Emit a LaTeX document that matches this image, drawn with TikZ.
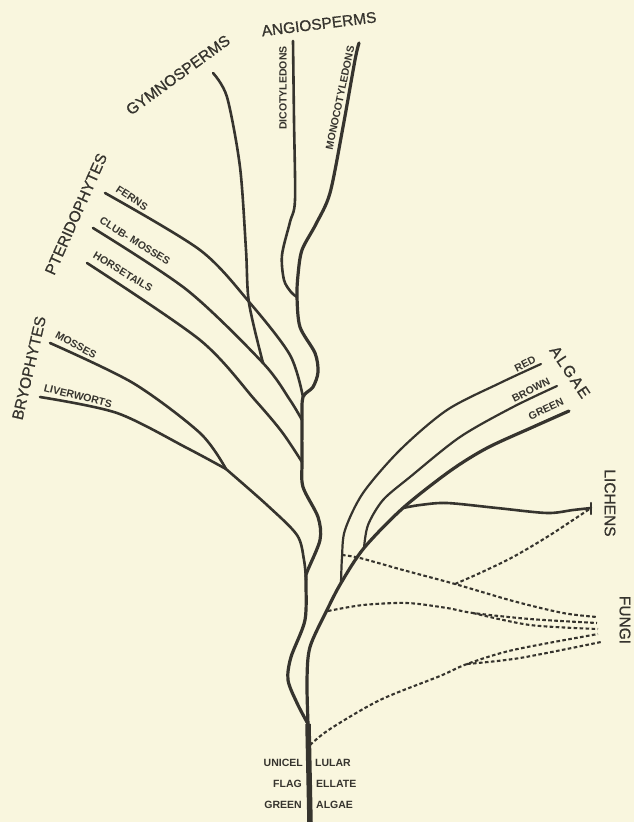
\documentclass[tikz,border=0pt]{standalone}
\usepackage{fontspec}
\setmainfont{Liberation Sans}
\usepackage{tikz}
\usetikzlibrary{calc}
\definecolor{papier}{HTML}{F9F6DE}
\definecolor{encre}{HTML}{36342E}
\tikzset{
  branche/.style={draw=encre, line width=2.6pt, line cap=round, line join=round},
  tige/.style={branche, line width=3.2pt},
  mince/.style={branche, line width=2.2pt},
  tronc/.style={draw=encre, line width=5.5pt},
  pointille/.style={draw=encre, line width=2.1pt, dash pattern=on 3.6pt off 2.4pt},
  groupe/.style={font=\fontsize{15.5}{17}\selectfont\addfontfeature{FakeBold=0.8},
    text=encre, inner sep=0pt},
  rameau/.style={font=\bfseries\fontsize{10.5}{12}\selectfont, text=encre, inner sep=0pt},
  socle/.style={font=\bfseries\fontsize{10.5}{12}\selectfont, text=encre, inner sep=0pt}
}

\begin{document}
\begin{tikzpicture}[x=1pt, y=-1pt]
  \fill[papier] (0,0) rectangle (634,822);
  \useasboundingbox (0,0) rectangle (634,822);

  % junctions and tips
  \coordinate (root) at (310,822);
  \coordinate (fork) at (308,724);
  \coordinate (jBryo) at (306,580);
  \coordinate (jHorse) at (302,462);
  \coordinate (jClub) at (302,420);
  \coordinate (jAngio) at (303,397);
  \coordinate (jDicot) at (297,297);
  \coordinate (jGymno) at (263,363);
  \coordinate (jMoss) at (226,469);
  \coordinate (jRed) at (341,583);
  \coordinate (jBrown) at (364,548);
  \coordinate (jLichen) at (403,508);
  \coordinate (jD1) at (342,555);
  \coordinate (jD3) at (328,611);
  \coordinate (jD4) at (310,745);
  \coordinate (cross) at (455,584);
  \coordinate (split3) at (473,613);
  \coordinate (split4) at (467,664);
  \coordinate (monoEnd) at (359,43);
  \coordinate (dicotEnd) at (293,41);
  \coordinate (gymnoEnd) at (213,73);
  \coordinate (fernEnd) at (105,193);
  \coordinate (clubEnd) at (93,228);
  \coordinate (horseEnd) at (87,263);
  \coordinate (mossEnd) at (50,343);
  \coordinate (liverEnd) at (40,397);
  \coordinate (redEnd) at (541,364);
  \coordinate (brownEnd) at (557,386);
  \coordinate (greenEnd) at (569,411);
  \coordinate (lichenEnd) at (591,508);
  \coordinate (f1) at (597,617);
  \coordinate (f2) at (597,623);
  \coordinate (f3) at (598,629);
  \coordinate (f4) at (598,634);
  \coordinate (f5) at (601,642);

  \draw[tronc] (root) -- (fork);

  % main stem up to the monocotyledons
  \draw[tige] plot[smooth] coordinates {(fork) (297,703) (288,680) (291,657)
    (305,620) (jBryo) (307,572) (320,540) (318,517) (303,487) (jHorse) (jClub)
    (jAngio) (313,387) (318,372) (315,353) (300,327) (jDicot) (298,275) (302,250)
    (316,224) (330,193) (343,127) (355,60) (monoEnd)};
  \draw[branche] plot[smooth] coordinates {(dicotEnd) (294,120) (295,200)
    (290,222) (282,255) (284,280) (291,292) (jDicot)};
  \draw[branche] plot[smooth] coordinates {(gymnoEnd) (227,97) (240,167)
    (246,250) (249,303) (jGymno)};

  % pteridophytes
  \draw[branche] plot[smooth] coordinates {(fernEnd) (200,250) (250,303)
    (290,355) (jAngio)};
  \draw[branche] plot[smooth] coordinates {(clubEnd) (187,290) (jGymno)
    (290,400) (jClub)};
  \draw[branche] plot[smooth] coordinates {(horseEnd) (200,340) (255,400)
    (282,432) (jHorse)};

  % bryophytes
  \draw[branche] plot[smooth] coordinates {(mossEnd) (133,383) (200,433) (jMoss)};
  \draw[branche] plot[smooth] coordinates {(liverEnd) (117,413) (187,448) (jMoss)};
  \draw[branche] plot[smooth] coordinates {(jMoss) (267,505) (297,535)
    (304,560) (jBryo)};

  % algae
  \draw[tige] plot[smooth] coordinates {(fork) (307,680) (310,647) (327,610)
    (jRed) (jBrown) (jLichen) (450,471) (487,448) (533,427) (greenEnd)};
  \draw[mince] plot[smooth] coordinates {(redEnd) (500,383) (447,410) (400,450)
    (363,493) (345,530) (342,557) (jRed)};
  \draw[mince] plot[smooth] coordinates {(brownEnd) (513,407) (460,437)
    (410,477) (383,500) (368,525) (jBrown)};

  % lichens
  \draw[branche] plot[smooth] coordinates {(jLichen) (420,505) (447,503)
    (497,508) (547,513) (573,510) (lichenEnd)};
  \draw[mince] ($(lichenEnd)+(0,-5)$) -- ($(lichenEnd)+(0,6)$);

  % fungi
  \draw[pointille] plot[smooth] coordinates {(jD1) (360,558) (403,570) (cross)
    (513,601) (563,613) (f1)};
  \draw[pointille] plot[smooth] coordinates {(cross) (480,573) (513,557)
    (547,537) (573,520) (lichenEnd)};
  \draw[pointille] plot[smooth] coordinates {(jD3) (363,605) (407,603)
    (447,608) (split3) (530,619) (f2)};
  \draw[pointille] plot[smooth] coordinates {(split3) (530,625) (f3)};
  \draw[pointille] plot[smooth] coordinates {(jD4) (330,729) (380,700)
    (440,676) (split4) (513,650) (f4)};
  \draw[pointille] plot[smooth] coordinates {(split4) (520,658) (f5)};

  % labels
  \node[groupe, rotate=7] (angio) at (319,24) {ANGIOSPERMS};
  \node[groupe, rotate=36] (gymno) at (178,75) {GYMNOSPERMS};
  \node[rameau, rotate=90] (dicot) at (283,88) {DICOTYLEDONS};
  \node[rameau, rotate=78] (mono) at (340,98) {MONOCOTYLEDONS};
  \node[groupe, rotate=66] (pterido) at (76,214) {PTERIDOPHYTES};
  \node[groupe, rotate=77] (bryo) at (29,368) {BRYOPHYTES};
  \node[rameau, rotate=-34] (ferns) at (132,198) {FERNS};
  \node[rameau, rotate=-32] (club) at (135,241) {CLUB- MOSSES};
  \node[rameau, rotate=-31] (horse) at (123,272) {HORSETAILS};
  \node[rameau, rotate=-29] (mosses) at (76,345) {MOSSES};
  \node[rameau, rotate=-14] (liver) at (78,396) {LIVERWORTS};
  \node[rameau, rotate=27] (red) at (525,364) {RED};
  \node[rameau, rotate=27] (brown) at (531,390) {BROWN};
  \node[rameau, rotate=25] (green) at (546,409) {GREEN};
  \node[groupe, rotate=-56] (algae) at (570,372) {\addfontfeature{LetterSpace=12}ALGAE};
  \node[groupe, rotate=-90] (lichens) at (610,503) {LICHENS};
  \node[groupe, rotate=-90] (fungi) at (625,620) {FUNGI};

  \node[socle, anchor=east] (unicel) at (303,763) {UNICEL};
  \node[socle, anchor=west] (lular) at (315,763) {LULAR};
  \node[socle, anchor=east] (flag) at (302,784) {FLAG};
  \node[socle, anchor=west] (ellate) at (316,784) {ELLATE};
  \node[socle, anchor=east] (greenb) at (302,805) {GREEN};
  \node[socle, anchor=west] (algaeb) at (316,805) {ALGAE};
\end{tikzpicture}
\end{document}
